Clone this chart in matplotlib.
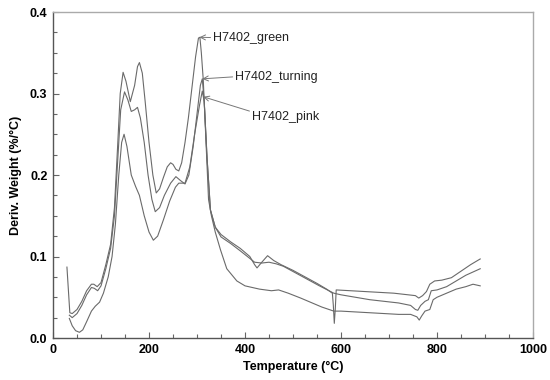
import matplotlib
matplotlib.use("Agg")
import matplotlib.pyplot as plt
from matplotlib.ticker import MultipleLocator

plt.rcParams['font.family'] = ['Liberation Sans', 'DejaVu Sans']

# ---- data ----
green_T = [29, 35, 40, 50, 60, 70, 80, 85, 92, 100, 110, 120, 128, 135, 140, 146,
           152, 161, 170, 176, 180, 186, 192, 200, 208, 215, 222, 230, 238, 245,
           250, 256, 262, 268, 275, 282, 290, 297, 303, 306, 309, 313, 318, 324,
           330, 338, 349, 362, 383, 400, 430, 455, 470, 490, 516, 540, 560, 575,
           585, 600, 630, 660, 690, 720, 745, 758, 763, 768, 775, 785, 792, 800,
           820, 840, 860, 875, 890]
green_y = [0.087, 0.031, 0.030, 0.035, 0.045, 0.058, 0.066, 0.066, 0.063, 0.068,
           0.090, 0.115, 0.160, 0.240, 0.300, 0.326, 0.315, 0.290, 0.310, 0.333,
           0.338, 0.325, 0.290, 0.240, 0.200, 0.178, 0.183, 0.197, 0.210, 0.215,
           0.213, 0.207, 0.205, 0.215, 0.240, 0.270, 0.310, 0.345, 0.368, 0.369,
           0.350, 0.317, 0.250, 0.170, 0.150, 0.130, 0.108, 0.085, 0.070, 0.064,
           0.060, 0.058, 0.059, 0.055, 0.049, 0.043, 0.038, 0.035, 0.033, 0.033,
           0.032, 0.031, 0.030, 0.029, 0.029, 0.026, 0.022, 0.027, 0.033, 0.035,
           0.047, 0.050, 0.055, 0.060, 0.063, 0.066, 0.064]

turning_T = [34, 40, 50, 60, 70, 80, 86, 93, 100, 110, 120, 128, 135, 141, 149,
             156, 163, 170, 176, 182, 190, 198, 206, 213, 222, 232, 245, 256, 266,
             275, 283, 292, 301, 307, 311, 315, 321, 328, 338, 350, 370, 390, 410,
             420, 425, 435, 447, 460, 475, 500, 525, 550, 570, 582, 584, 586, 588,
             590, 620, 650, 680, 710, 740, 755, 762, 770, 778, 785, 795, 810, 830,
             850, 870, 890]
turning_y = [0.028, 0.025, 0.030, 0.040, 0.053, 0.062, 0.061, 0.058, 0.064, 0.085,
             0.110, 0.150, 0.220, 0.280, 0.302, 0.292, 0.278, 0.280, 0.283, 0.270,
             0.240, 0.200, 0.170, 0.155, 0.160, 0.175, 0.190, 0.198, 0.193, 0.189,
             0.200, 0.235, 0.280, 0.310, 0.318, 0.290, 0.220, 0.157, 0.136, 0.127,
             0.118, 0.110, 0.100, 0.090, 0.086, 0.093, 0.101, 0.095, 0.090, 0.083,
             0.075, 0.067, 0.060, 0.055, 0.040, 0.018, 0.035, 0.059, 0.058, 0.057,
             0.056, 0.055, 0.053, 0.052, 0.049, 0.052, 0.057, 0.066, 0.070, 0.071,
             0.074, 0.082, 0.090, 0.097]

pink_T = [34, 40, 47, 55, 62, 70, 80, 88, 97, 105, 115, 123, 130, 137, 143, 148,
          154, 163, 172, 180, 190, 200, 209, 218, 230, 243, 255, 262, 275, 285,
          295, 305, 311, 315, 321, 328, 338, 350, 370, 390, 405, 420, 435, 450,
          465, 480, 505, 530, 555, 575, 585, 600, 630, 660, 690, 720, 745, 755,
          760, 766, 775, 782, 788, 800, 820, 840, 860, 890]
pink_y = [0.024, 0.015, 0.009, 0.007, 0.010, 0.020, 0.033, 0.039, 0.044, 0.055,
          0.075, 0.100, 0.140, 0.200, 0.240, 0.250, 0.235, 0.200, 0.186, 0.175,
          0.150, 0.130, 0.120, 0.125, 0.145, 0.168, 0.185, 0.190, 0.190, 0.210,
          0.250, 0.285, 0.303, 0.290, 0.220, 0.157, 0.136, 0.124, 0.116, 0.107,
          0.100, 0.093, 0.092, 0.093, 0.091, 0.088, 0.080, 0.072, 0.064, 0.058,
          0.055, 0.053, 0.050, 0.047, 0.045, 0.043, 0.040, 0.035, 0.034, 0.040,
          0.045, 0.047, 0.058, 0.059, 0.063, 0.070, 0.077, 0.085]

labels = ['H7402_green', 'H7402_turning', 'H7402_pink']

# ---- figure ----
fig = plt.figure(figsize=(5.5, 3.8), dpi=100)
ax = fig.add_axes([0.0964, 0.1105, 0.8727, 0.8579])

lc = '#6a6a6a'
for T, y in [(green_T, green_y), (turning_T, turning_y), (pink_T, pink_y)]:
    ax.plot(T, y, color=lc, lw=0.8)

ax.set_xlim(0, 1000)
ax.set_ylim(0, 0.4)
ax.xaxis.set_major_locator(MultipleLocator(200))
ax.xaxis.set_minor_locator(MultipleLocator(50))
ax.yaxis.set_major_locator(MultipleLocator(0.1))
ax.yaxis.set_minor_locator(MultipleLocator(0.025))
ax.tick_params(which='both', direction='in', top=False, right=False,
               color='#666666', width=0.8)
ax.tick_params(which='major', length=4, labelsize=9, pad=4)
ax.tick_params(which='minor', length=3)
for lab in ax.get_xticklabels() + ax.get_yticklabels():
    lab.set_fontweight('bold')
ax.xaxis.set_major_formatter(matplotlib.ticker.FuncFormatter(lambda v, p: f"{v:.0f}"))
ax.yaxis.set_major_formatter(matplotlib.ticker.FuncFormatter(lambda v, p: f"{v:.1f}"))
for lab in ax.get_xticklabels() + ax.get_yticklabels():
    lab.set_fontweight('bold')

ax.spines['left'].set_color('#555555')
ax.spines['bottom'].set_color('#555555')
ax.spines['top'].set_color('#aaaaaa')
ax.spines['right'].set_color('#aaaaaa')
for s in ax.spines.values():
    s.set_linewidth(1.0)

ax.set_xlabel('Temperature (°C)', fontsize=9, fontweight='bold', labelpad=4)
ax.set_ylabel('Deriv. Weight (%/°C)', fontsize=9, fontweight='bold', labelpad=6)

arrow = dict(arrowstyle='->', color='#777777', lw=0.7, shrinkA=0, shrinkB=0)
ax.annotate(labels[0], xy=(305, 0.369), xytext=(334, 0.3686), fontsize=9,
            ha='left', va='center', color='#222222',
            arrowprops=dict(arrow, relpos=(0, 0.5)))
ax.annotate(labels[1], xy=(311, 0.318), xytext=(380, 0.3206), fontsize=9,
            ha='left', va='center', color='#222222',
            arrowprops=dict(arrow, relpos=(0, 0.5)))
ax.annotate(labels[2], xy=(313, 0.296), xytext=(415, 0.2715), fontsize=9,
            ha='left', va='center', color='#222222',
            arrowprops=dict(arrow, relpos=(0, 0.9)))

fig.savefig('out.png', dpi=100)
